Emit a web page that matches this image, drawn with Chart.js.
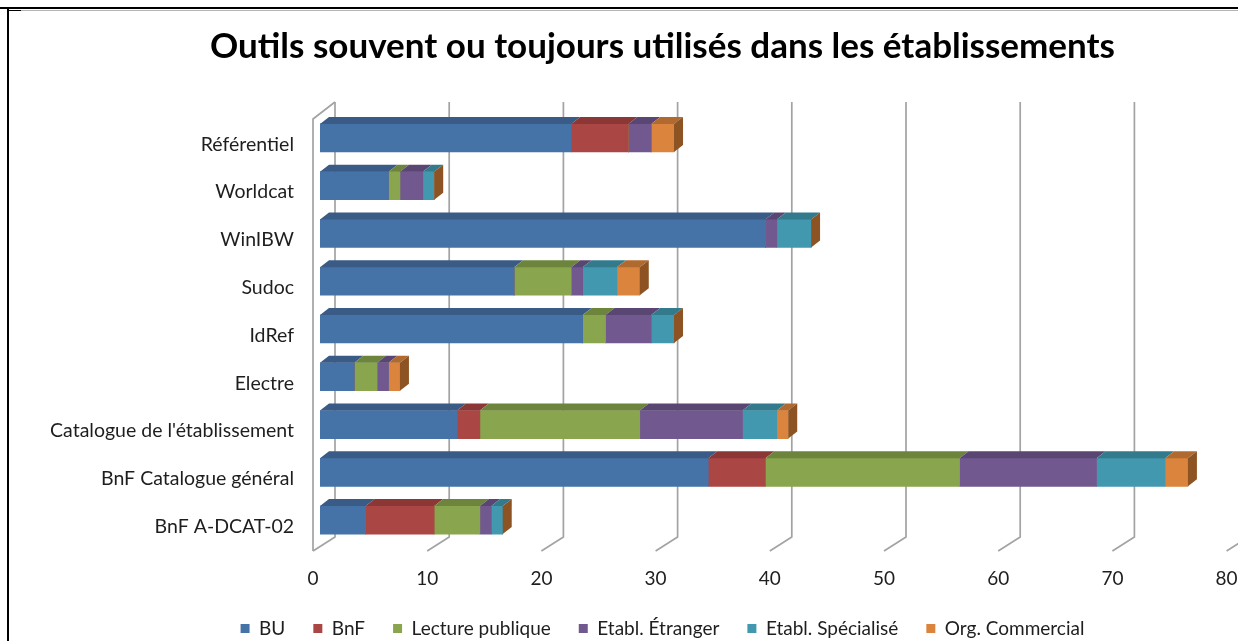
<!DOCTYPE html>
<html><head><meta charset="utf-8">
<script src="https://cdn.jsdelivr.net/npm/chart.js@4.4.0/dist/chart.umd.min.js"></script>
<style>
html,body{margin:0;padding:0;overflow:hidden;background:#fff;width:1238px;height:641px;}
#wrap{position:absolute;left:0;top:0;width:1325px;height:648px;}
canvas{display:block;}
.b{position:absolute;background:#000;}
</style></head><body>
<div id="wrap"><canvas id="c" width="1325" height="648" style="width:1325px;height:648px"></canvas></div>
<div class="b" style="left:0;top:7px;width:1238px;height:2px"></div>
<div class="b" style="left:7px;top:7px;width:2px;height:634px"></div>
<div class="b" style="left:9px;top:10px;width:12px;height:1px"></div>
<div class="b" style="left:21px;top:10px;width:1217px;height:1px;background:#b4b4b4"></div>
<script>
const categories = ["Référentiel","Worldcat","WinIBW","Sudoc","IdRef","Electre","Catalogue de l'établissement","BnF Catalogue général","BnF A-DCAT-02"];
const seriesNames = ["BU","BnF","Lecture publique","Etabl. Étranger","Etabl. Spécialisé","Org. Commercial"];
const BU              = [22, 6, 39, 17, 23, 3, 12, 34, 4];
const BnF             = [ 5, 0,  0,  0,  0, 0,  2,  5, 6];
const LecturePublique = [ 0, 1,  0,  5,  2, 2, 14, 17, 4];
const EtablEtranger   = [ 2, 2,  1,  1,  4, 1,  9, 12, 1];
const EtablSpecialise = [ 0, 1,  3,  3,  2, 0,  3,  6, 1];
const OrgCommercial   = [ 2, 0,  0,  2,  0, 1,  1,  2, 0];
const xTickMin = 0, xTickMax = 80, xTickStep = 10;

const seriesValues = [BU, BnF, LecturePublique, EtablEtranger, EtablSpecialise, OrgCommercial];
const frontColors = ['#4572A7','#AA4643','#89A54E','#71588F','#4198AF','#DB843D'];
const topColors   = ['#395b86','#8a3735','#6d843d','#5a4673','#337a8c','#b06a2f'];
const sideColor = '#8d5322';
const FONT = 'Lato, "Open Sans", sans-serif';
const gridColor = '#a3a3a3';

const threeD = {
  id: 'threeD',
  beforeDatasetsDraw(chart) {
    const {ctx, chartArea: {top, bottom}, scales: {x}} = chart;
    ctx.save();
    ctx.strokeStyle = gridColor;
    ctx.lineWidth = 1.7;
    x.ticks.forEach(t => {
      const fx = x.getPixelForValue(t.value), bx = fx + 15;
      ctx.beginPath();
      ctx.moveTo(bx, top - 12);
      ctx.lineTo(bx, bottom - 7);
      ctx.lineTo(bx - 22, bottom + 7);
      ctx.stroke();
    });
    const f0 = x.getPixelForValue(xTickMin);
    ctx.beginPath();
    ctx.moveTo(f0 + 15, top - 12);
    ctx.lineTo(f0 - 7, top + 5);
    ctx.lineTo(f0 - 7, bottom + 7);
    ctx.stroke();
    ctx.restore();
  },
  afterDatasetsDraw(chart) {
    const ctx = chart.ctx;
    const dx = 9, dy = 7;
    ctx.save();
    const n = chart.data.datasets.length;
    for (let i = 0; i < n; i++) {
      const meta = chart.getDatasetMeta(i);
      meta.data.forEach(el => {
        const p = el.getProps(['x', 'y', 'base', 'height'], true);
        const t = p.y - p.height / 2, b = p.y + p.height / 2;
        const l = Math.min(p.x, p.base), r = Math.max(p.x, p.base);
        if (r - l > 0.5) {
          ctx.fillStyle = topColors[i];
          ctx.beginPath();
          ctx.moveTo(l, t); ctx.lineTo(l + dx, t - dy); ctx.lineTo(r + dx, t - dy); ctx.lineTo(r, t);
          ctx.closePath(); ctx.fill();
        }
        if (i === n - 1) {
          ctx.fillStyle = sideColor;
          ctx.beginPath();
          ctx.moveTo(r, t); ctx.lineTo(r + dx, t - dy); ctx.lineTo(r + dx, b - dy); ctx.lineTo(r, b);
          ctx.closePath(); ctx.fill();
        }
      });
    }
    ctx.restore();
  }
};

new Chart(document.getElementById('c'), {
  type: 'bar',
  data: {
    labels: categories,
    datasets: seriesNames.map((name, i) => ({
      label: name,
      data: seriesValues[i],
      backgroundColor: frontColors[i],
      borderWidth: 0,
      barThickness: 28,
      yAxisID: 'y',
      xAxisID: 'x'
    }))
  },
  options: {
    indexAxis: 'y',
    responsive: false,
    animation: false,
    devicePixelRatio: 1,
    layout: { padding: 0 },
    plugins: {
      tooltip: { enabled: false },
      title: {
        display: true,
        text: 'Outils souvent ou toujours utilisés dans les établissements',
        color: '#000',
        font: { family: FONT, size: 35, weight: 'bold' },
        padding: { top: 26, bottom: 46 }
      },
      legend: {
        position: 'bottom',
        labels: {
          boxWidth: 9, boxHeight: 9, padding: 28,
          color: '#1e1e1e',
          font: { family: FONT, size: 19 }
        }
      }
    },
    scales: {
      x: {
        stacked: true,
        min: xTickMin, max: xTickMax,
        ticks: { stepSize: xTickStep, labelOffset: -7, padding: 15, color: '#1e1e1e', font: { family: FONT, size: 19 }, maxRotation: 0 },
        grid: { display: false },
        border: { display: false },
        afterFit: s => { s.height = 47; }
      },
      y: {
        stacked: true,
        ticks: { padding: 18, labelOffset: 6.5, color: '#1e1e1e', font: { family: FONT, size: 19.5 } },
        grid: { display: false },
        border: { display: false },
        afterFit: s => { s.width = 320; }
      },
      yR: {
        type: 'linear',
        position: 'right',
        axis: 'y',
        ticks: { display: false },
        grid: { display: false },
        border: { display: false },
        afterFit: s => { s.width = 91.4; }
      }
    }
  },
  plugins: [threeD]
});
</script>
</body></html>
